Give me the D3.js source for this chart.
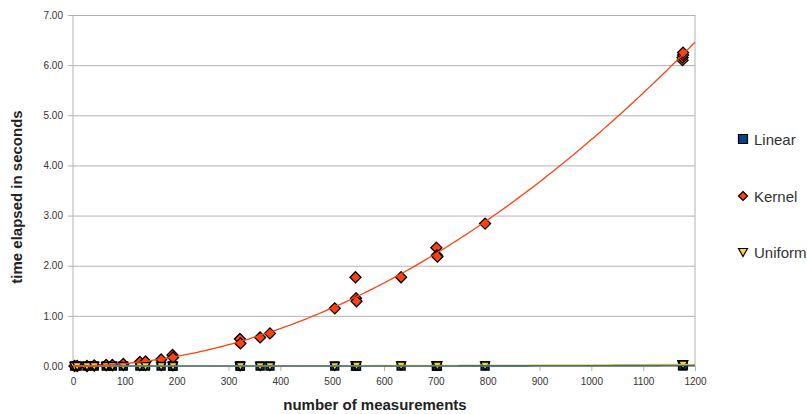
<!DOCTYPE html>
<html>
<head>
<meta charset="utf-8">
<script src="https://cdn.jsdelivr.net/npm/d3@7"></script>
<style>
  body { margin: 0; background: #fff; }
  svg { display: block; font-family: "Liberation Sans", Arial, sans-serif; }
  .gridlines line { stroke: #b3b3b3; }
  .gridlines path { stroke: none; }
  .axis path, .axis line { stroke: #b3b3b3; }
  .axis text { fill: #333; font-size: 10px; }
</style>
</head>
<body>
<svg id="chart" width="807" height="414"></svg>
<script>
// measurement counts per run, shared by the three methods
const runs = [3, 8, 27, 41, 64, 76, 97, 129, 140, 170, 192, 193, 322, 323, 361, 380,
  505, 545, 546, 547, 633, 701, 702, 703, 795, 1176, 1176, 1177, 1177];
const kernelTime = [0.00, 0.00, 0.00, 0.01, 0.02, 0.02, 0.04, 0.08, 0.09, 0.13, 0.22, 0.17,
  0.54, 0.45, 0.57, 0.65, 1.15, 1.77, 1.35, 1.29, 1.77, 2.36, 2.21, 2.18, 2.84,
  6.10, 6.15, 6.20, 6.25];
const linearTime = [0.00, 0.00, 0.00, 0.00, 0.00, 0.00, 0.00, 0.00, 0.00, 0.00, 0.00, 0.00,
  0.00, 0.00, 0.00, 0.00, 0.00, 0.00, 0.00, 0.00, 0.00, 0.00, 0.00, 0.00, 0.00,
  0.01, 0.01, 0.01, 0.01];
const uniformTime = [0.00, 0.00, 0.00, 0.00, 0.00, 0.00, 0.00, 0.00, 0.00, 0.00, 0.00, 0.00,
  0.00, 0.00, 0.00, 0.00, 0.00, 0.01, 0.01, 0.01, 0.01, 0.01, 0.01, 0.01, 0.01,
  0.03, 0.03, 0.03, 0.03];

const seriesNames = ["Linear", "Kernel", "Uniform"];
const seriesColors = ["#004586", "#ff420e", "#ffd320"];
const xTicks = [0, 100, 200, 300, 400, 500, 600, 700, 800, 900, 1000, 1100, 1200];
const yTicks = [0, 1, 2, 3, 4, 5, 6, 7];

const svg = d3.select("#chart");
const margins = { top: 15, right: 112, bottom: 48, left: 73 };
const chartWidth = svg.attr("width") - margins.left - margins.right;
const chartHeight = svg.attr("height") - margins.top - margins.bottom;

const xScale = d3.scaleLinear().domain([0, 1200]).range([0, chartWidth]);
const yScale = d3.scaleLinear().domain([0, 7]).range([chartHeight, 0]);

const chartArea = svg.append("g")
  .attr("transform", `translate(${margins.left},${margins.top})`);

// horizontal gridlines
chartArea.append("g")
  .attr("class", "gridlines")
  .call(d3.axisLeft(yScale).tickValues(yTicks).tickSize(-chartWidth).tickFormat(""));

// right border of plot area
chartArea.append("line")
  .attr("x1", chartWidth).attr("x2", chartWidth)
  .attr("y1", 0).attr("y2", chartHeight)
  .attr("stroke", "#b3b3b3");

// axes
chartArea.append("g")
  .attr("class", "axis")
  .call(d3.axisLeft(yScale).tickValues(yTicks).tickSize(5).tickPadding(5)
    .tickFormat(d3.format(".2f")))
  .call(g => g.select(".domain").attr("d", `M0,0V${chartHeight + 5}`));

chartArea.append("g")
  .attr("class", "axis")
  .attr("transform", `translate(0,${chartHeight})`)
  .call(d3.axisBottom(xScale).tickValues(xTicks).tickSize(5).tickPadding(7)
    .tickFormat(d3.format("d")))
  .call(g => g.select(".domain").remove());

// markers
const diamond = "M0,-5.5L5.5,0L0,5.5L-5.5,0Z";
const square = "M-4,-4H4V4H-4Z";
const triangle = "M-4.5,-3.5H4.5L0,4.5Z";
const shapes = [square, diamond, triangle];
const seriesValues = [linearTime, kernelTime, uniformTime];

seriesValues.forEach((vals, i) => {
  chartArea.append("g")
    .selectAll("path")
    .data(runs.map((r, j) => [r, vals[j]]))
    .join("path")
    .attr("d", shapes[i])
    .attr("transform", d => `translate(${xScale(d[0])},${yScale(d[1])})`)
    .attr("fill", seriesColors[i])
    .attr("stroke", "#000")
    .attr("stroke-width", 1.3);
});

// quadratic trend (least squares) for the near-zero series
function fitQuadratic(xs, ys) {
  const s = [0, 0, 0, 0, 0], t = [0, 0, 0];
  xs.forEach((x, k) => {
    for (let p = 0; p < 5; p++) s[p] += Math.pow(x, p);
    for (let p = 0; p < 3; p++) t[p] += Math.pow(x, p) * ys[k];
  });
  const m = [[s[0], s[1], s[2], t[0]], [s[1], s[2], s[3], t[1]], [s[2], s[3], s[4], t[2]]];
  for (let c = 0; c < 3; c++) {
    for (let r = c + 1; r < 3; r++) {
      const f = m[r][c] / m[c][c];
      for (let q = c; q < 4; q++) m[r][q] -= f * m[c][q];
    }
  }
  const b = [0, 0, 0];
  for (let r = 2; r >= 0; r--) {
    let v = m[r][3];
    for (let q = r + 1; q < 3; q++) v -= m[r][q] * b[q];
    b[r] = v / m[r][r];
  }
  return x => b[0] + b[1] * x + b[2] * x * x;
}

// power trend y = a*x^b fitted in log space (times of 0.05 s and up)
function fitPower(xs, ys) {
  const pts = xs.map((x, k) => [x, ys[k]]).filter(p => p[1] >= 0.05)
    .map(p => [Math.log(p[0]), Math.log(p[1])]);
  const mx = d3.mean(pts, p => p[0]), my = d3.mean(pts, p => p[1]);
  const b = d3.sum(pts, p => (p[0] - mx) * (p[1] - my)) / d3.sum(pts, p => (p[0] - mx) ** 2);
  const a = Math.exp(my - b * mx);
  return x => a * Math.pow(x, b);
}

const trendLine = d3.line().x(d => xScale(d[0])).y(d => yScale(d[1]));
const xs = d3.range(0, 1201, 5);
[2, 0, 1].forEach(i => {
  const f = i === 1 ? fitPower(runs, seriesValues[i]) : fitQuadratic(runs, seriesValues[i]);
  chartArea.append("path")
    .attr("d", trendLine(xs.map(x => [x, Math.max(0, f(x))])))
    .attr("fill", "none")
    .attr("stroke", i === 0 ? "#3a6e8e" : seriesColors[i])
    .attr("stroke-width", i === 1 ? 1.3 : 1.6);
});

// axis titles
svg.append("text")
  .text("number of measurements")
  .attr("x", 375).attr("y", 410)
  .attr("text-anchor", "middle")
  .style("font-size", "15px").style("font-weight", "bold").attr("fill", "#222");

svg.append("text")
  .text("time elapsed in seconds")
  .attr("transform", "translate(22,197) rotate(-90)")
  .attr("text-anchor", "middle")
  .style("font-size", "15px").style("font-weight", "bold").attr("fill", "#222");

// legend
const legendY = [139, 196, 252];
const legendShapes = [
  "M-4.5,-4.5H4.5V4.5H-4.5Z",
  "M0,-4.5L4.5,0L0,4.5L-4.5,0Z",
  "M-4.5,-3.5H4.5L0,4.5Z"
];
const legend = svg.append("g");
seriesNames.forEach((name, i) => {
  legend.append("path")
    .attr("d", legendShapes[i])
    .attr("transform", `translate(743,${legendY[i]})`)
    .attr("fill", seriesColors[i])
    .attr("stroke", "#000")
    .attr("stroke-width", 1.2);
  legend.append("text")
    .text(name)
    .attr("x", 754).attr("y", legendY[i] + 6)
    .style("font-size", "15px").attr("fill", "#333");
});
</script>
</body>
</html>
